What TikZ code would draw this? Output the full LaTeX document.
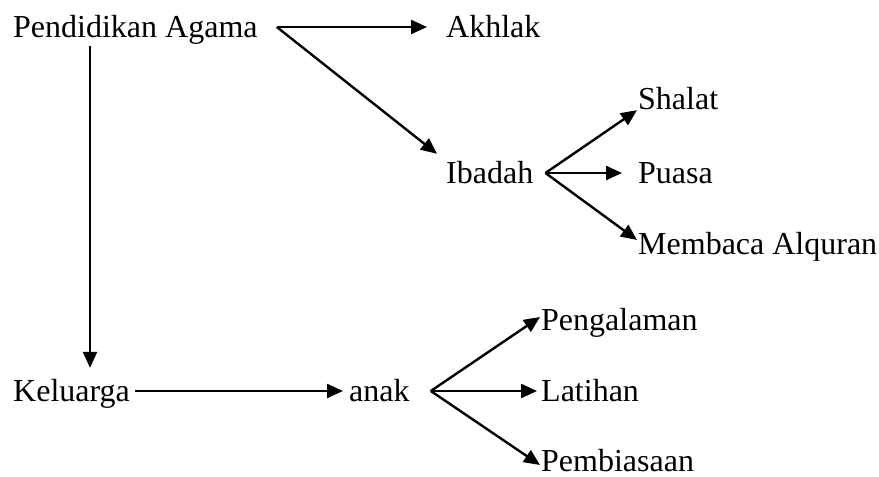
\documentclass[tikz,border=0pt]{standalone}
\usepackage{fontspec}
\setmainfont{Liberation Serif}
\usepackage{tikz}
\usetikzlibrary{arrows.meta}
\tikzset{
    every node/.style={font=\fontsize{32}{38}\selectfont,},
    term/.style={anchor=west,inner sep=0pt,text height=20pt,text depth=0pt,},
}

\begin{document}
\begin{tikzpicture}[x=1pt,y=-1pt,line width=2.4pt,>={Triangle[length=16pt,width=14pt]}]
    \useasboundingbox (0,0) rectangle (879,477);

    \node[term] (pendidikan) at (12, 27) {Pendidikan Agama};
    \node[term] (akhlak) at (445, 27) {Akhlak};
    \node[term] (ibadah) at (445, 173) {Ibadah};

    \node[term] (shalat) at (637, 99) {Shalat};
    \node[term] (puasa) at (637, 173) {Puasa};
    \node[term] (membaca_alquran) at (637, 244) {Membaca Alquran};

    \node[term] (keluarga) at (12, 391) {Keluarga};
    \node[term] (anak) at (348, 391) {anak};

    \node[term] (pengalaman) at (540, 320) {Pengalaman};
    \node[term] (latihan) at (540, 391) {Latihan};
    \node[term] (pembiasaan) at (540, 461) {Pembiasaan};

    \coordinate (pendidikan_fork) at ([xshift=18pt]pendidikan.east);
    \coordinate (ibadah_fork) at ([xshift=11pt]ibadah.east);
    \coordinate (anak_fork) at ([xshift=20pt]anak.east);

    \draw[->,shorten >=18pt] (pendidikan_fork) to (akhlak.west);
    \draw[->] (pendidikan_fork) to ([xshift=-8pt,yshift=8pt]ibadah.north west);
    \draw[->] ([xshift=78pt,yshift=-8pt]pendidikan.south west) to ([xshift=78pt,yshift=12pt]keluarga.north west);

    \draw[->] (ibadah_fork) to (shalat.south west);
    \draw[->,shorten >=15pt] (ibadah_fork) to (puasa.west);
    \draw[->] (ibadah_fork) to ([yshift=4pt]membaca_alquran.west);

    \draw[->,shorten <=4pt,shorten >=5pt] (keluarga) to (anak);

    \draw[->] (anak_fork) to ([yshift=3pt]pengalaman.west);
    \draw[->,shorten >=3pt] (anak_fork) to (latihan.west);
    \draw[->] (anak_fork) to ([yshift=-4pt]pembiasaan.west);
\end{tikzpicture}
\end{document}
